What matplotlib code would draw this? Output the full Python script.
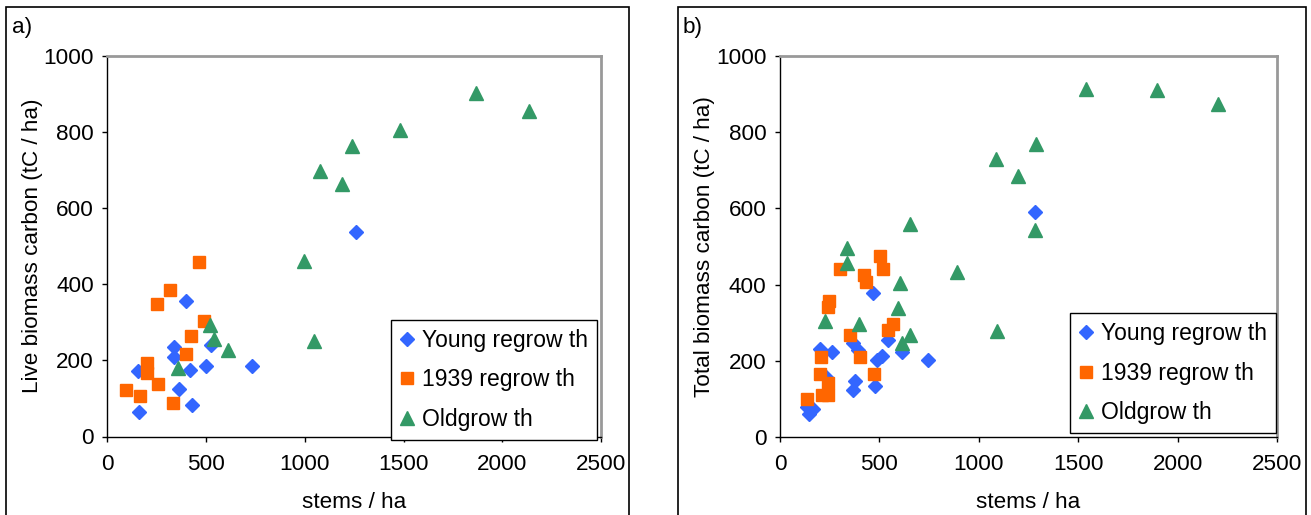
import matplotlib.pyplot as plt
from matplotlib.patches import Rectangle

plt.rcParams['font.family'] = ['Liberation Sans', 'DejaVu Sans']

# panel a) live biomass carbon
young_a_x = [400, 337, 337, 526, 157, 417, 499, 734, 365, 429, 162, 1260]
young_a_y = [355, 236, 208, 240, 171, 175, 186, 186, 126, 82, 64, 536]
mid_a_x = [462, 320, 250, 492, 422, 400, 199, 199, 258, 97, 167, 332]
mid_a_y = [457, 386, 347, 303, 265, 216, 194, 167, 138, 123, 107, 89]
old_a_x = [519, 539, 610, 357, 997, 1047, 1869, 2134, 1484, 1241, 1077, 1189]
old_a_y = [294, 255, 227, 179, 460, 252, 903, 855, 805, 762, 697, 662]

# panel b) total biomass carbon
young_b_x = [470, 202, 264, 367, 390, 542, 514, 488, 615, 746, 232, 377, 367, 478, 135, 168, 148, 1281]
young_b_y = [378, 232, 223, 246, 228, 255, 213, 202, 222, 202, 158, 148, 123, 133, 80, 73, 61, 590]
mid_b_x = [505, 517, 300, 424, 434, 247, 240, 567, 544, 350, 207, 403, 199, 240, 475, 210, 240, 135]
mid_b_y = [476, 440, 440, 424, 408, 358, 341, 297, 280, 269, 210, 210, 165, 143, 165, 110, 110, 99]
old_b_x = [337, 337, 605, 592, 224, 397, 656, 615, 892, 1537, 1896, 2204, 1290, 1086, 1199, 1281, 1094, 653]
old_b_y = [496, 456, 405, 338, 305, 296, 267, 246, 432, 913, 910, 875, 769, 729, 686, 543, 279, 560]

labels = ['Young regrow th', '1939 regrow th', 'Oldgrow th']
x_ticks = [0, 500, 1000, 1500, 2000, 2500]
y_ticks = [0, 200, 400, 600, 800, 1000]

BLUE = '#3366FF'
ORANGE = '#FF6600'
GREEN = '#339966'
FS = 16.2

fig = plt.figure(figsize=(13.11, 5.15), dpi=100)

# outer panel frames
for x0, w in [(6 / 1311, 623 / 1311), (678 / 1311, 628 / 1311)]:
    fig.add_artist(Rectangle((x0, -0.05), w, 1.05 - 7 / 515, transform=fig.transFigure,
                             fill=False, edgecolor='black', linewidth=1.2, clip_on=False))

ax_a = fig.add_axes([107.3 / 1311, 1 - 436.5 / 515, 493.7 / 1311, 380.8 / 515])
ax_b = fig.add_axes([780 / 1311, 1 - 437 / 515, 497 / 1311, 381 / 515])

panels = [
    (ax_a, young_a_x, young_a_y, mid_a_x, mid_a_y, old_a_x, old_a_y,
     'Live biomass carbon (tC / ha)', 'a)', 12 / 1311, 0.992, -0.009),
    (ax_b, young_b_x, young_b_y, mid_b_x, mid_b_y, old_b_x, old_b_y,
     'Total biomass carbon (tC / ha)', 'b)', 683 / 1311, 0.998, 0.01),
]

for ax, yx, yy, mx, my, ox, oy, ylab, tag, tag_x, lx, ly in panels:
    ax.plot(yx, yy, linestyle='none', marker='D', markersize=7, color=BLUE, label=labels[0])
    ax.plot(mx, my, linestyle='none', marker='s', markersize=8.3, color=ORANGE, label=labels[1])
    ax.plot(ox, oy, linestyle='none', marker='^', markersize=10.5, color=GREEN, label=labels[2])

    ax.set_xlim(0, 2500)
    ax.set_ylim(0, 1000)
    ax.set_xticks(x_ticks)
    ax.set_yticks(y_ticks)
    ax.tick_params(direction='out', length=3.6, width=1, color='black', labelsize=FS)
    ax.tick_params(axis='x', pad=9)
    ax.tick_params(axis='y', pad=6)
    for s in ['left', 'bottom']:
        ax.spines[s].set_color('black')
        ax.spines[s].set_linewidth(1)
    for s in ['right', 'top']:
        ax.spines[s].set_color('#999999')
        ax.spines[s].set_linewidth(2)

    ax.set_xlabel('stems / ha', fontsize=FS)
    ax.xaxis.set_label_coords(0.5, -0.145)
    ax.set_ylabel(ylab, fontsize=FS)
    ax.yaxis.set_label_coords(-0.13, 0.5)

    leg = ax.legend(loc='lower right', bbox_to_anchor=(lx, ly), fontsize=16.5, frameon=True,
                    fancybox=False, edgecolor='black', framealpha=1, handlelength=0.6,
                    handletextpad=0.35, labelspacing=0.72, borderpad=0.4, borderaxespad=0,
                    markerscale=1.0)
    leg.get_frame().set_linewidth(1)

    fig.text(tag_x, 1 - 27 / 515, tag, fontsize=FS, va='center', ha='left')

fig.savefig('out.png', dpi=100)
